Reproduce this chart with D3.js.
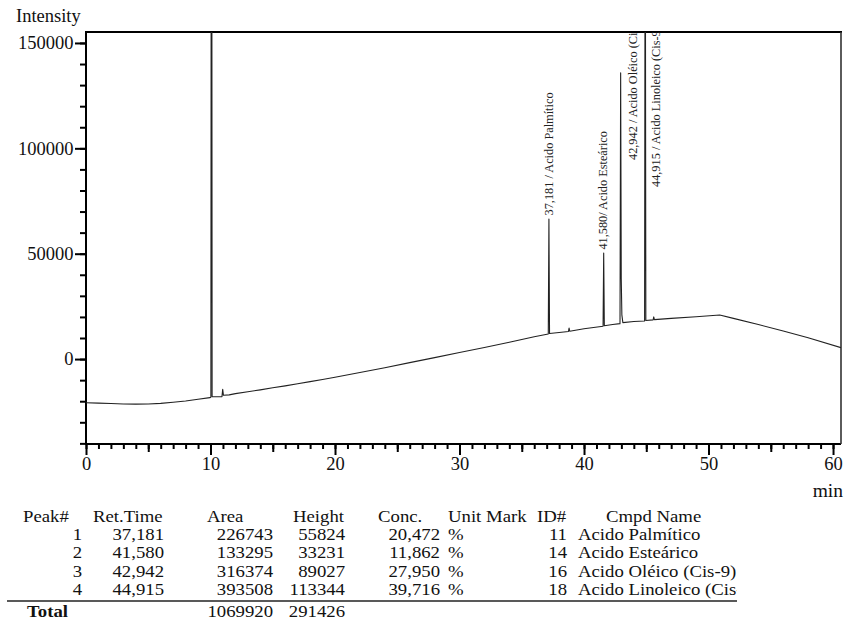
<!DOCTYPE html>
<html>
<head>
<meta charset="utf-8">
<script src="https://cdn.jsdelivr.net/npm/d3@7"></script>
<style>
  html, body { margin: 0; padding: 0; background: #fff; }
  svg { display: block; font-family: "Liberation Serif", "Times New Roman", serif; }
</style>
</head>
<body>
<svg id="chart" width="845" height="621"></svg>
<script>
// ---- Chromatogram trace (retention time in min, detector intensity) ----
const traceMinutes = [
  0, 1, 2, 3, 4, 5, 6, 7, 8, 9, 9.95,
  10.03, 10.08, 10.13, 10.5, 10.92, 10.98, 11.04, 11.5,
  12, 13, 14, 15, 16, 17, 18, 19, 20, 22, 24, 26, 28, 30, 32, 34, 36,
  37.13, 37.181, 37.23, 38, 38.75, 38.8, 38.85, 40,
  41.53, 41.58, 41.63, 42.3,
  42.89, 42.942, 42.99, 43.04, 43.12, 44,
  44.865, 44.915, 44.965, 45.55, 45.6, 45.65,
  47, 49, 50.9, 52, 54, 56, 58, 60.64
];
const traceIntensity = [
  -20700, -20900, -21100, -21300, -21400, -21300, -21000, -20500, -19900, -19100, -18300,
  -18100, 450000, -17800, -17900, -17800, -14400, -17200, -17000,
  -16400, -15500, -14600, -13600, -12700, -11700, -10700, -9700, -8600, -6400, -4100, -1700, 700, 3100, 5500, 8000, 10600,
  11900, 66500, 12100, 12600, 13100, 14700, 13200, 14400,
  15600, 50300, 15800, 16400,
  16800, 135800, 38000, 21000, 17300, 17800,
  18100, 260000, 18300, 18600, 20000, 18700,
  19300, 20100, 20900, 19300, 16400, 13300, 10100, 5400
];

// ---- Identified peaks ----
const peakNumbers = [1, 2, 3, 4];
const peakTimes   = [37.181, 41.580, 42.942, 44.915];
const peakAreas   = [226743, 133295, 316374, 393508];
const peakHeights = [55824, 33231, 89027, 113344];
const peakConc    = [20.472, 11.862, 27.950, 39.716];
const peakUnits   = ["%", "%", "%", "%"];
const peakIds     = [11, 14, 16, 18];
const peakNames   = ["Acido Palmítico", "Acido Esteárico", "Acido Oléico (Cis-9)", "Acido Linoleico (Cis-9,12)"];
const peakLabels  = [
  "37,181 / Acido Palmítico",
  "41,580/ Acido Esteárico",
  "42,942 / Acido Oléico (Cis-9)",
  "44,915 / Acido Linoleico (Cis-9,12)"
];

// ---- Axis ticks ----
const xTickLabels = [0, 10, 20, 30, 40, 50, 60];
const yTickLabels = [0, 50000, 100000, 150000];

// ---- Layout ----
const plot = { left: 86, top: 32, right: 841, bottom: 444 };
const svg = d3.select("#chart");

const x = d3.scaleLinear().domain([0, 60.64]).range([plot.left, plot.right]);
const y = d3.scaleLinear().domain([-40300, 155200]).range([plot.bottom, plot.top]);

const commaLocale = d3.formatLocale({ decimal: ",", thousands: ".", grouping: [3], currency: ["", ""] });
const fmt3 = commaLocale.format(".3f");

const defs = svg.append("defs");
defs.append("clipPath").attr("id", "plotClip")
  .append("rect")
  .attr("x", plot.left).attr("y", plot.top)
  .attr("width", plot.right - plot.left).attr("height", plot.bottom - plot.top);

// ---- Axes: minor / middle / major ticks ----
const yMinor = d3.range(-40000, 150001, 10000);
const xMinor = d3.range(0, 61, 1);
const xMid = d3.range(5, 61, 10);

function styleAxis(g) {
  g.select(".domain").remove();
  g.selectAll(".tick line").attr("stroke", "#000").attr("stroke-width", 2);
  g.selectAll(".tick text")
    .attr("fill", "#111")
    .style("font-family", '"Liberation Serif", "Times New Roman", serif')
    .style("font-size", "18.5px");
}

svg.append("g").attr("transform", `translate(${plot.left},0)`)
  .call(d3.axisLeft(y).tickValues(yMinor).tickSize(6).tickFormat(""))
  .call(styleAxis);
svg.append("g").attr("transform", `translate(${plot.left},0)`)
  .call(d3.axisLeft(y).tickValues(yTickLabels).tickSize(11).tickPadding(1.5).tickFormat(d3.format("d")))
  .call(styleAxis);

svg.append("g").attr("transform", `translate(0,${plot.bottom})`)
  .call(d3.axisBottom(x).tickValues(xMinor).tickSize(5).tickFormat(""))
  .call(styleAxis);
svg.append("g").attr("transform", `translate(0,${plot.bottom})`)
  .call(d3.axisBottom(x).tickValues(xMid).tickSize(8).tickFormat(""))
  .call(styleAxis);
svg.append("g").attr("transform", `translate(0,${plot.bottom})`)
  .call(d3.axisBottom(x).tickValues(xTickLabels).tickSize(11).tickPadding(1.5).tickFormat(d3.format("d")))
  .call(styleAxis);

// ---- Frame ----
const frame = svg.append("g").attr("fill", "none");
frame.append("line").attr("x1", plot.left).attr("x2", plot.left)
  .attr("y1", plot.top - 1).attr("y2", plot.bottom + 1).attr("stroke", "#000").attr("stroke-width", 2);
frame.append("line").attr("x1", plot.left - 1).attr("x2", plot.right)
  .attr("y1", plot.bottom).attr("y2", plot.bottom).attr("stroke", "#000").attr("stroke-width", 2);
frame.append("line").attr("x1", plot.left).attr("x2", plot.right + 1)
  .attr("y1", plot.top).attr("y2", plot.top).attr("stroke", "#000").attr("stroke-width", 2);
frame.append("line").attr("x1", plot.right).attr("x2", plot.right)
  .attr("y1", plot.top).attr("y2", plot.bottom).attr("stroke", "#333").attr("stroke-width", 1.6);

// ---- Axis titles ----
svg.append("text").attr("x", 16).attr("y", 21.7)
  .attr("font-size", 18.5).attr("fill", "#111").text("Intensity");
svg.append("text").attr("x", 843).attr("y", 497).attr("text-anchor", "end")
  .attr("font-size", 19.5).attr("fill", "#111").text("min");

// ---- Trace ----
const tracePoints = traceMinutes.map((t, i) => [t, traceIntensity[i]]);
const line = d3.line().x(d => x(d[0])).y(d => y(d[1]));
const plotArea = svg.append("g").attr("clip-path", "url(#plotClip)");
plotArea.append("path")
  .datum(tracePoints)
  .attr("fill", "none")
  .attr("stroke", "#222")
  .attr("stroke-width", 1.1)
  .attr("stroke-linejoin", "round")
  .attr("d", line);

// ---- Peak labels (rotated, reading bottom to top) ----
const labelPlacement = [
  { dx: 4.3, top: null },
  { dx: 3.3, top: null },
  { dx: 16,  top: 160 },
  { dx: 15,  top: 187 }
];
peakTimes.forEach((t, i) => {
  const apex = traceIntensity[traceMinutes.indexOf(t)];
  const p = labelPlacement[i];
  const lx = x(t) + p.dx;
  const ly = p.top === null ? y(apex) - 3.5 : p.top;
  plotArea.append("text")
    .attr("transform", `translate(${lx},${ly}) rotate(-90)`)
    .attr("font-size", 12.3)
    .attr("fill", "#222")
    .text(peakLabels[i]);
});

// ---- Peak table ----
// Rows are tightly packed, so glyphs use a compact size widened horizontally.
const tableFont = 15.9;
const widen = 1.18;
const table = svg.append("g").attr("font-size", tableFont).attr("fill", "#111");
defs.append("clipPath").attr("id", "tableClip")
  .append("rect").attr("x", 0).attr("y", 495).attr("width", 737).attr("height", 126);
table.attr("clip-path", "url(#tableClip)");

const place = (px, py) => `translate(${px},${py}) scale(${widen},1)`;

const headerY = 521.5;
const rowY = [540, 558.3, 576.7, 595];
const headers = [
  { text: "Peak#",     x: 23 },
  { text: "Ret.Time",  x: 93 },
  { text: "Area",      x: 207 },
  { text: "Height",    x: 293 },
  { text: "Conc.",     x: 378 },
  { text: "Unit Mark", x: 448 },
  { text: "ID#",       x: 537 },
  { text: "Cmpd Name", x: 606 }
];
headers.forEach(h => table.append("text").attr("transform", place(h.x, headerY)).text(h.text));

const columns = [
  { values: peakNumbers,             x: 82,  anchor: "end" },
  { values: peakTimes.map(fmt3),     x: 164, anchor: "end" },
  { values: peakAreas,               x: 273, anchor: "end" },
  { values: peakHeights,             x: 345, anchor: "end" },
  { values: peakConc.map(fmt3),      x: 440, anchor: "end" },
  { values: peakUnits,               x: 448, anchor: "start" },
  { values: peakIds,                 x: 567, anchor: "end" },
  { values: peakNames,               x: 578, anchor: "start" }
];
columns.forEach(c => {
  table.selectAll(null).data(c.values).join("text")
    .attr("transform", (d, i) => place(c.x, rowY[i]))
    .attr("text-anchor", c.anchor)
    .text(d => d);
});

table.append("line").attr("x1", 7).attr("x2", 737).attr("y1", 601).attr("y2", 601)
  .attr("stroke", "#222").attr("stroke-width", 1.5);

const totalY = 616.7;
table.append("text").attr("transform", place(27, totalY)).attr("font-weight", "bold").text("Total");
table.append("text").attr("transform", place(273, totalY)).attr("text-anchor", "end").text(d3.sum(peakAreas));
table.append("text").attr("transform", place(345, totalY)).attr("text-anchor", "end").text(d3.sum(peakHeights));
</script>
</body>
</html>
